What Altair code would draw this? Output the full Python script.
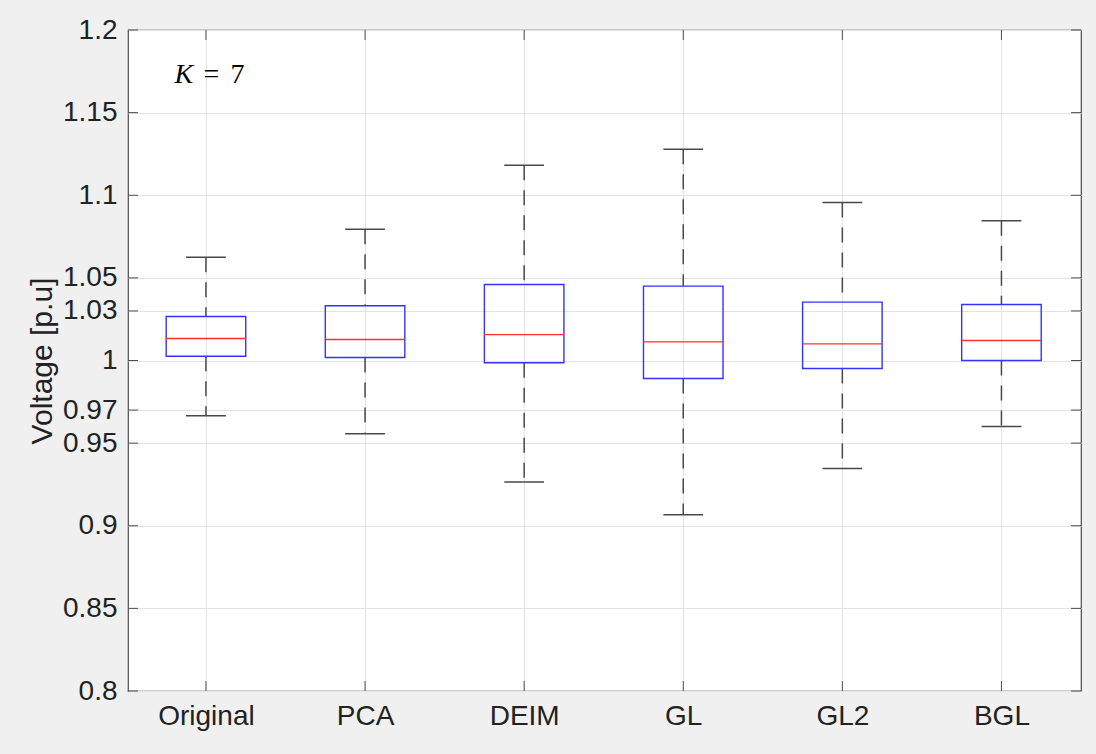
import json
import altair as alt
import pandas as pd

# ---- data ----
categories = ["Original", "PCA", "DEIM", "GL", "GL2", "BGL"]
whisker_low = [0.9665, 0.9556, 0.9264, 0.9066, 0.9346, 0.9601]
q1 = [1.0026, 1.0018, 0.9986, 0.9891, 0.9952, 1.0000]
median = [1.0133, 1.0127, 1.0157, 1.0113, 1.0101, 1.0121]
q3 = [1.0266, 1.0331, 1.0460, 1.0450, 1.0353, 1.0339]
whisker_high = [1.0625, 1.0795, 1.1182, 1.1279, 1.0956, 1.0845]

y_ticks = [0.8, 0.85, 0.9, 0.95, 0.97, 1.0, 1.03, 1.05, 1.1, 1.15, 1.2]
x_ticks = [1, 2, 3, 4, 5, 6]

annot_text = ["K", "=", "7"]
annot_x = [0.802, 0.985, 1.155]
annot_y = [1.1728, 1.1728, 1.1728]

# ---- layout / style ----
W, H = 953, 661
BOX_HALF = 0.25
CAP_HALF = 0.125
FONT = "Liberation Sans"
TICK_LEN = 10

df = pd.DataFrame({
    "cat": categories,
    "pos": list(range(1, len(categories) + 1)),
    "wlo": whisker_low,
    "q1": q1,
    "med": median,
    "q3": q3,
    "whi": whisker_high,
})
df["bl"] = df["pos"] - BOX_HALF
df["br"] = df["pos"] + BOX_HALF
df["cl"] = df["pos"] - CAP_HALF
df["cr"] = df["pos"] + CAP_HALF

label_expr = json.dumps(categories) + "[datum.value - 1]"

xs = alt.Scale(domain=[0.51, 6.5], nice=False, zero=False)
ys = alt.Scale(domain=[0.8, 1.2], nice=False, zero=False)

x_axis = alt.Axis(values=x_ticks, labelExpr=label_expr, grid=True, gridColor="#e3e3e3",
                  ticks=False, domain=False, labelFont=FONT, labelFontSize=28,
                  labelColor="#222222", labelPadding=11, title=None, labelFlush=False)
y_axis = alt.Axis(values=y_ticks, format="~g", grid=True, gridColor="#e3e3e3",
                  ticks=False, domain=False, labelFont=FONT, labelFontSize=28,
                  labelColor="#222222", labelPadding=11, title="Voltage [p.u]",
                  titleFont=FONT, titleFontSize=30, titleFontWeight="normal",
                  titleColor="#222222", titleAngle=270, titleX=-86, titleY=H / 2,
                  titleAlign="center", titleBaseline="middle")

base = alt.Chart(df)

grid_layer = base.mark_point(opacity=0).encode(
    x=alt.X("pos:Q", scale=xs, axis=x_axis),
    y=alt.Y("med:Q", scale=ys, axis=y_axis),
)

dash = [15, 10]
wcol = "#484848"

upper_whisker = base.mark_rule(color=wcol, strokeWidth=1.5, strokeDash=dash).encode(
    x="pos:Q", y="whi:Q", y2="q3:Q")
lower_whisker = base.mark_rule(color=wcol, strokeWidth=1.5, strokeDash=dash).encode(
    x="pos:Q", y="q1:Q", y2="wlo:Q")
cap_hi = base.mark_rule(color=wcol, strokeWidth=1.5).encode(x="cl:Q", x2="cr:Q", y="whi:Q")
cap_lo = base.mark_rule(color=wcol, strokeWidth=1.5).encode(x="cl:Q", x2="cr:Q", y="wlo:Q")

box = base.mark_rect(fillOpacity=0, stroke="#3333ff", strokeWidth=1.4).encode(
    x="bl:Q", x2="br:Q", y="q1:Q", y2="q3:Q")
med = base.mark_rule(color="#ff3030", strokeWidth=1.3).encode(x="bl:Q", x2="br:Q", y="med:Q")

# inward ticks
ytick_df = pd.DataFrame({"v": y_ticks})
xtick_df = pd.DataFrame({"p": x_ticks})
tcol = "#4d4d4d"
lt = alt.Chart(ytick_df).mark_rule(color=tcol, strokeWidth=1).encode(
    y="v:Q", x=alt.value(0), x2=alt.value(TICK_LEN))
rt = alt.Chart(ytick_df).mark_rule(color=tcol, strokeWidth=1).encode(
    y="v:Q", x=alt.value(W - TICK_LEN), x2=alt.value(W))
bt = alt.Chart(xtick_df).mark_rule(color=tcol, strokeWidth=1).encode(
    x="p:Q", y=alt.value(H), y2=alt.value(H - TICK_LEN))
tt = alt.Chart(xtick_df).mark_rule(color=tcol, strokeWidth=1).encode(
    x="p:Q", y=alt.value(0), y2=alt.value(TICK_LEN))

ann = pd.DataFrame({"t": annot_text, "x": annot_x, "y": annot_y})
k_txt = alt.Chart(ann.iloc[:1]).mark_text(
    font="Liberation Serif", fontSize=28, fontStyle="italic", align="left",
    baseline="middle", color="#000000").encode(x="x:Q", y="y:Q", text="t:N")
rest_txt = alt.Chart(ann.iloc[1:]).mark_text(
    font="Liberation Serif", fontSize=28, align="left",
    baseline="middle", color="#000000").encode(x="x:Q", y="y:Q", text="t:N")

chart = alt.layer(
    grid_layer, upper_whisker, lower_whisker, cap_hi, cap_lo, box, med,
    lt, rt, bt, tt, k_txt, rest_txt
).properties(
    width=W, height=H,
    autosize=alt.AutoSizeParams(type="none"),
    padding={"left": 128, "top": 30, "right": 15, "bottom": 63},
    background="#f0f0f0",
).configure_view(
    fill="#ffffff", stroke="#4d4d4d", strokeWidth=1.2
)

chart.save("out.html", embed_options={"renderer": "svg", "actions": False})
